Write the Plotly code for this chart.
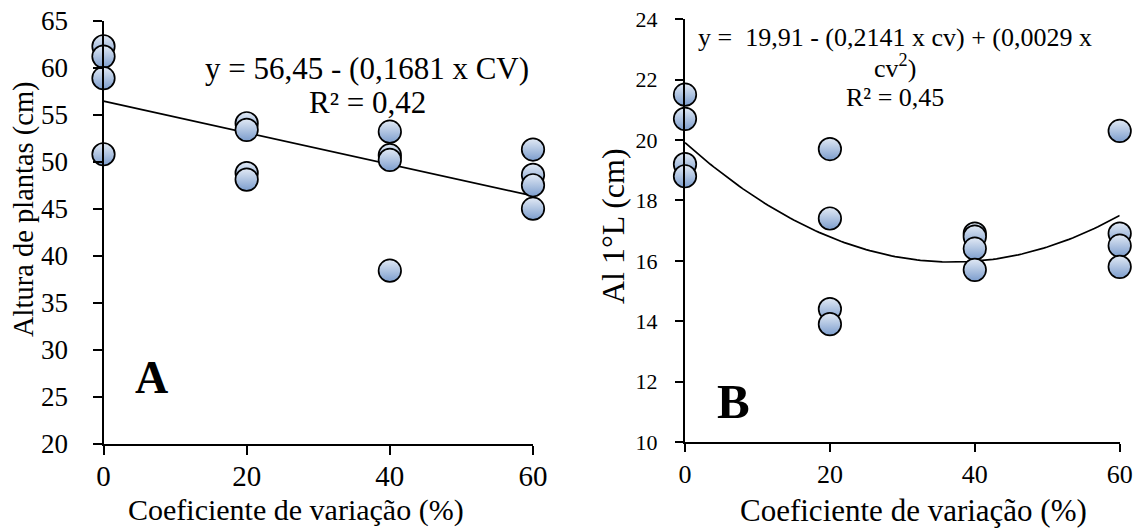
import plotly.graph_objects as go
import numpy as np

# ---- data ----
cv_levels = [0, 20, 40, 60]
# Panel A: Altura de plantas (cm)
a_x = [0, 0, 0, 0, 20, 20, 20, 20, 40, 40, 40, 40, 60, 60, 60, 60]
a_y = [62.3, 61.2, 58.9, 50.8, 54.1, 53.4, 48.8, 48.1, 53.2, 50.7, 50.2, 38.4, 51.3, 48.6, 47.5, 45.0]
a_coef = [56.45, -0.1681]
# Panel B: Al 1°L (cm)
b_x = [0, 0, 0, 0, 20, 20, 20, 20, 40, 40, 40, 40, 60, 60, 60, 60]
b_y = [21.5, 20.7, 19.2, 18.8, 19.7, 17.4, 14.4, 13.9, 16.9, 16.8, 16.4, 15.7, 20.3, 16.9, 16.5, 15.8]
b_coef = [19.91, -0.2141, 0.0029]

a_yticks = [20, 25, 30, 35, 40, 45, 50, 55, 60, 65]
b_yticks = [10, 12, 14, 16, 18, 20, 22, 24]

FONT = "Liberation Serif"
W, H = 1137, 528

def px(x):
    return x / W

def py(y):
    return 1 - y / H

fig = go.Figure()

marker = dict(size=22.5, color="#e2eaf5", line=dict(color="black", width=1.7),
              gradient=dict(type="vertical", color="#7c9dcd"))

# Panel A
xa = np.linspace(0, 60, 61)
fig.add_trace(go.Scatter(x=xa, y=a_coef[0] + a_coef[1] * xa, mode="lines",
                         line=dict(color="black", width=1.7), xaxis="x", yaxis="y",
                         showlegend=False, hoverinfo="skip"))
fig.add_trace(go.Scatter(x=a_x, y=a_y, mode="markers", marker=marker, cliponaxis=False,
                         xaxis="x", yaxis="y", showlegend=False))

# Panel B
xb = np.linspace(0, 60, 121)
fig.add_trace(go.Scatter(x=xb, y=b_coef[0] + b_coef[1] * xb + b_coef[2] * xb ** 2, mode="lines",
                         line=dict(color="black", width=1.7), xaxis="x2", yaxis="y2",
                         showlegend=False, hoverinfo="skip"))
fig.add_trace(go.Scatter(x=b_x, y=b_y, mode="markers", marker=marker, cliponaxis=False,
                         xaxis="x2", yaxis="y2", showlegend=False))

axis_common = dict(showline=True, linecolor="black", linewidth=2, ticks="outside",
                   tickwidth=2, tickcolor="black", showgrid=False,
                   zeroline=False, fixedrange=True, automargin=False)

fig.update_layout(
    template="none",
    width=W, height=H,
    margin=dict(l=0, r=0, t=0, b=0, autoexpand=False),
    paper_bgcolor="white", plot_bgcolor="white",
    font=dict(family=FONT, color="black"),
    xaxis=dict(**axis_common, domain=[px(103.5), px(533)], range=[0, 60], ticklen=9,
               tickvals=cv_levels, tickfont=dict(size=29, family=FONT),
               ticklabelstandoff=-3, anchor="y"),
    yaxis=dict(**axis_common, domain=[py(443.5), py(20.9)], range=[20, 65], ticklen=9,
               tickvals=a_yticks, tickfont=dict(size=27, family=FONT),
               ticklabelstandoff=19, anchor="x"),
    xaxis2=dict(**axis_common, domain=[px(685), px(1119.7)], range=[0, 60], ticklen=8,
                tickvals=cv_levels, tickfont=dict(size=26, family=FONT),
                ticklabelstandoff=0, anchor="y2"),
    yaxis2=dict(**axis_common, domain=[py(442), py(19.2)], range=[10, 24], ticklen=8,
                tickvals=b_yticks, tickfont=dict(size=22, family=FONT),
                ticklabelstandoff=13, anchor="x2"),
)

ann = [
    # axis titles
    dict(text="Altura de plantas (cm)", x=px(24), y=py(209), textangle=-90, size=28.5),
    dict(text="Coeficiente de variação (%)", x=px(296), y=py(510), size=30),
    dict(text="Al 1°L (cm)", x=px(613), y=py(226), textangle=-90, size=32),
    dict(text="Coeficiente de variação (%)", x=px(913), y=py(510), size=31),
    # equations
    dict(text="y = 56,45 - (0,1681 x CV)", x=px(367), y=py(69), size=31),
    dict(text="R² = 0,42", x=px(367), y=py(102.5), size=31),
    dict(text="y =  19,91 - (0,2141 x cv) + (0,0029 x", x=px(895), y=py(37), size=26),
    dict(text="cv<sup>2</sup>)", x=px(895), y=py(66), size=26),
    dict(text="R² = 0,45", x=px(895), y=py(97), size=26),
    # panel letters
    dict(text="<b>A</b>", x=px(151), y=py(377), size=46),
    dict(text="<b>B</b>", x=px(733), y=py(401), size=49),
]
for a in ann:
    fig.add_annotation(text=a["text"], x=a["x"], y=a["y"], xref="paper", yref="paper",
                       xanchor="center", yanchor="middle", showarrow=False,
                       textangle=a.get("textangle", 0),
                       font=dict(family=FONT, size=a["size"], color="black"))

fig.write_html("out.html")
